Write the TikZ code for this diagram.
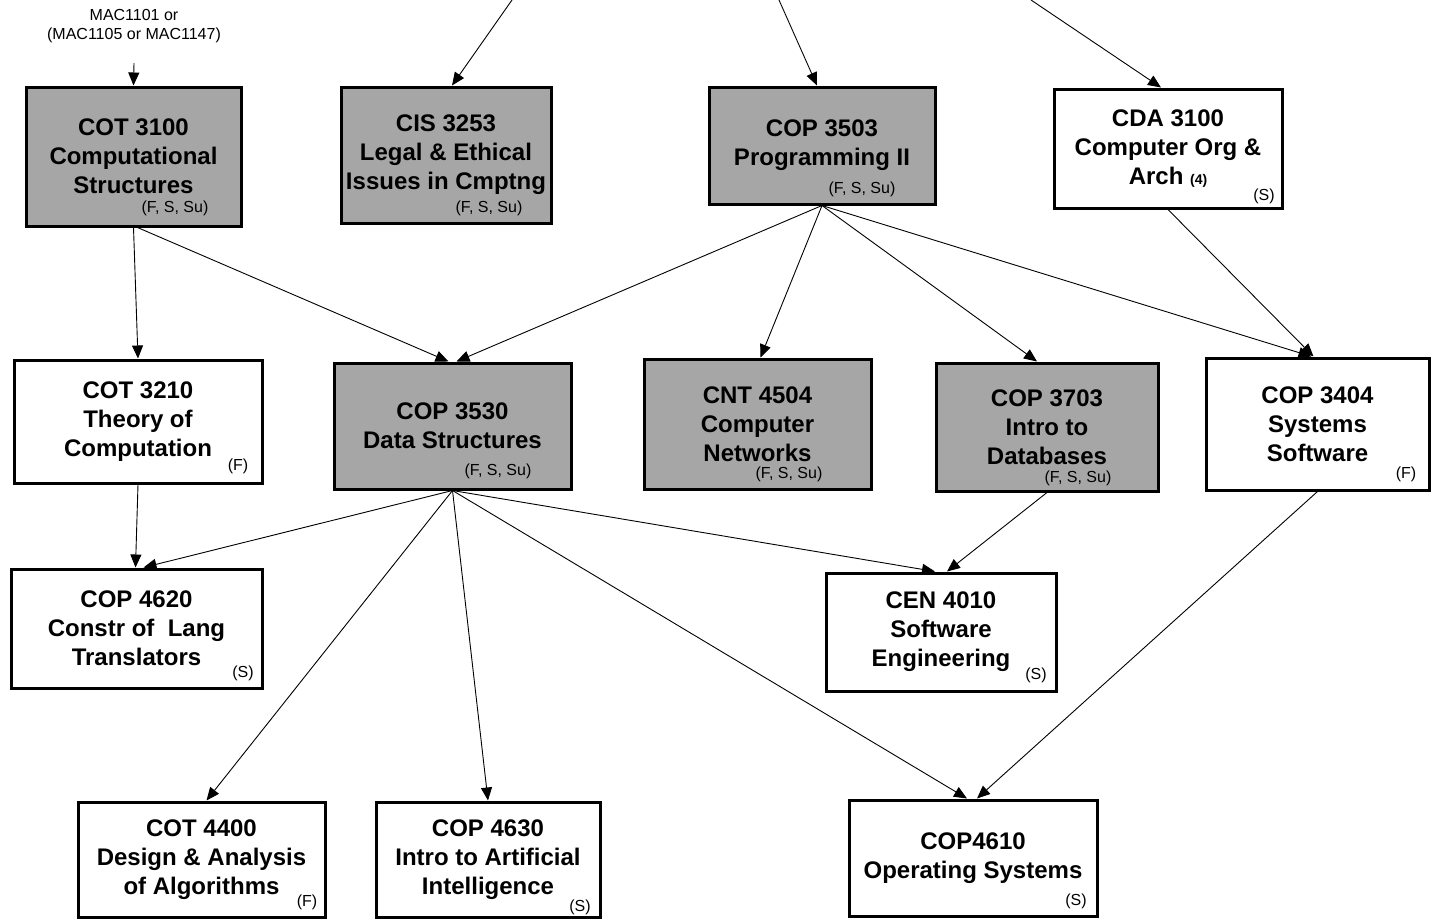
\documentclass[tikz,border=0pt]{standalone}
\usepackage{fontspec}
\setmainfont{Liberation Sans}
\usetikzlibrary{arrows.meta,calc}
\definecolor{boxgray}{RGB}{166,166,166}
\begin{document}
\begin{tikzpicture}[x=1pt,y=-1pt,
  course/.style={draw=black,line width=3pt,align=center,inner sep=0pt,
    font=\fontsize{24}{29}\selectfont\bfseries},
  core/.style={course,fill=boxgray},
  elective/.style={course,fill=white},
  note/.style={font=\fontsize{16}{19}\selectfont,inner sep=0pt},
  prereq/.style={font=\fontsize{16}{19}\selectfont,align=center,inner sep=0pt},
  arr/.style={line width=0.9pt,-{Triangle[length=13pt,width=11pt]}}]
\useasboundingbox (0,0) rectangle (1436,921);

% prerequisite text and free ends
\node[prereq] (mac) at (134,26) {MAC1101 or\\(MAC1105 or MAC1147)};
\coordinate (macend) at (134,63);
\coordinate (srcA) at (512,0);
\coordinate (srcB) at (779,0);
\coordinate (srcC) at (1031,0);

% courses
\node[core, minimum width=215pt, minimum height=139pt] (cot3100) at (133.5,156.5) {COT 3100\\Computational\\Structures};
\node[core, minimum width=210pt, minimum height=136pt] (cis3253) at (446,155) {CIS 3253\\Legal \& Ethical\\Issues in Cmptng};
\node[core, minimum width=226pt, minimum height=117pt] (cop3503) at (822,145.5) {COP 3503\\Programming II};
\node[elective, minimum width=228pt, minimum height=119pt] (cda3100) at (1168,148.5) {CDA 3100\\Computer Org \&\\Arch {\fontsize{14}{17}\selectfont (4)}};
\node[elective, minimum width=248pt, minimum height=123pt] (cot3210) at (138,421.5) {COT 3210\\Theory of\\Computation};
\node[core, minimum width=237pt, minimum height=126pt] (cop3530) at (452.5,426) {COP 3530\\Data Structures};
\node[core, minimum width=227pt, minimum height=130pt] (cnt4504) at (757.5,424) {CNT 4504\\Computer\\Networks};
\node[core, minimum width=222pt, minimum height=128pt] (cop3703) at (1047,427) {COP 3703\\Intro to\\Databases};
\node[elective, minimum width=223pt, minimum height=132pt] (cop3404) at (1317.5,424) {COP 3404\\Systems\\Software};
\node[elective, minimum width=251pt, minimum height=119pt] (cop4620) at (136.5,628.5) {COP 4620\\Constr of~ Lang\\Translators};
\node[elective, minimum width=230pt, minimum height=118pt] (cen4010) at (941,632) {CEN 4010\\Software\\Engineering};
\node[elective, minimum width=247pt, minimum height=115pt] (cot4400) at (201.5,859.5) {COT 4400\\Design \& Analysis\\of Algorithms};
\node[elective, minimum width=224pt, minimum height=115pt] (cop4630) at (488,859.5) {COP 4630\\Intro to Artificial\\Intelligence};
\node[elective, minimum width=248pt, minimum height=116pt] (cop4610) at (973,858) {COP4610\\Operating Systems};

% offering notes
\node[note] (n3100) at (175,208) {(F, S, Su)};
\node[note] (n3253) at (489,208) {(F, S, Su)};
\node[note] (n3503) at (862,189) {(F, S, Su)};
\node[note] (nCDA) at (1264,196) {(S)};
\node[note] (n3210) at (238,466) {(F)};
\node[note] (n3530) at (498,471) {(F, S, Su)};
\node[note] (n4504) at (789,474) {(F, S, Su)};
\node[note] (n3703) at (1078,478) {(F, S, Su)};
\node[note] (n3404) at (1406,474) {(F)};
\node[note] (n4620) at (243,673) {(S)};
\node[note] (n4010) at (1036,675) {(S)};
\node[note] (n4400) at (307,902) {(F)};
\node[note] (n4630) at (580,907) {(S)};
\node[note] (n4610) at (1076,901) {(S)};

% connectors
\draw[arr] (macend) -- (cot3100.north);
\draw[arr] (srcA) -- ($(cis3253.north)+(6,0)$);
\draw[arr] (srcB) -- ($(cop3503.north)+(-5,0)$);
\draw[arr] (srcC) -- ($(cda3100.north)+(-7,0)$);

\draw[arr] (cot3100.south) -- (cot3210.north);
\draw[arr] ($(cot3100.south)+(4,0)$) -- ($(cop3530.north)+(-4,0)$);

\draw[arr] (cop3503.south) -- ($(cop3530.north)+(4,0)$);
\draw[arr] (cop3503.south) -- ($(cnt4504.north)+(3,0)$);
\draw[arr] (cop3503.south) -- ($(cop3703.north)+(-10,0)$);
\draw[arr] (cop3503.south) -- ($(cop3404.north)+(-6,0)$);
\draw[arr] (cda3100.south) -- ($(cop3404.north)+(-4,0)$);

\draw[arr] (cot3210.south) -- ($(cop4620.north)+(-1,0)$);
\draw[arr] (cop3530.south) -- ($(cop4620.north)+(7,0)$);
\draw[arr] (cop3530.south) -- ($(cot4400.north)+(5,0)$);
\draw[arr] (cop3530.south) -- (cop4630.north);
\draw[arr] (cop3530.south) -- ($(cen4010.north)+(-6,0)$);
\draw[arr] (cop3530.south) -- ($(cop4610.north)+(-6,0)$);
\draw[arr] (cop3703.south) -- ($(cen4010.north)+(6,0)$);
\draw[arr] (cop3404.south) -- ($(cop4610.north)+(4,0)$);
\end{tikzpicture}
\end{document}
